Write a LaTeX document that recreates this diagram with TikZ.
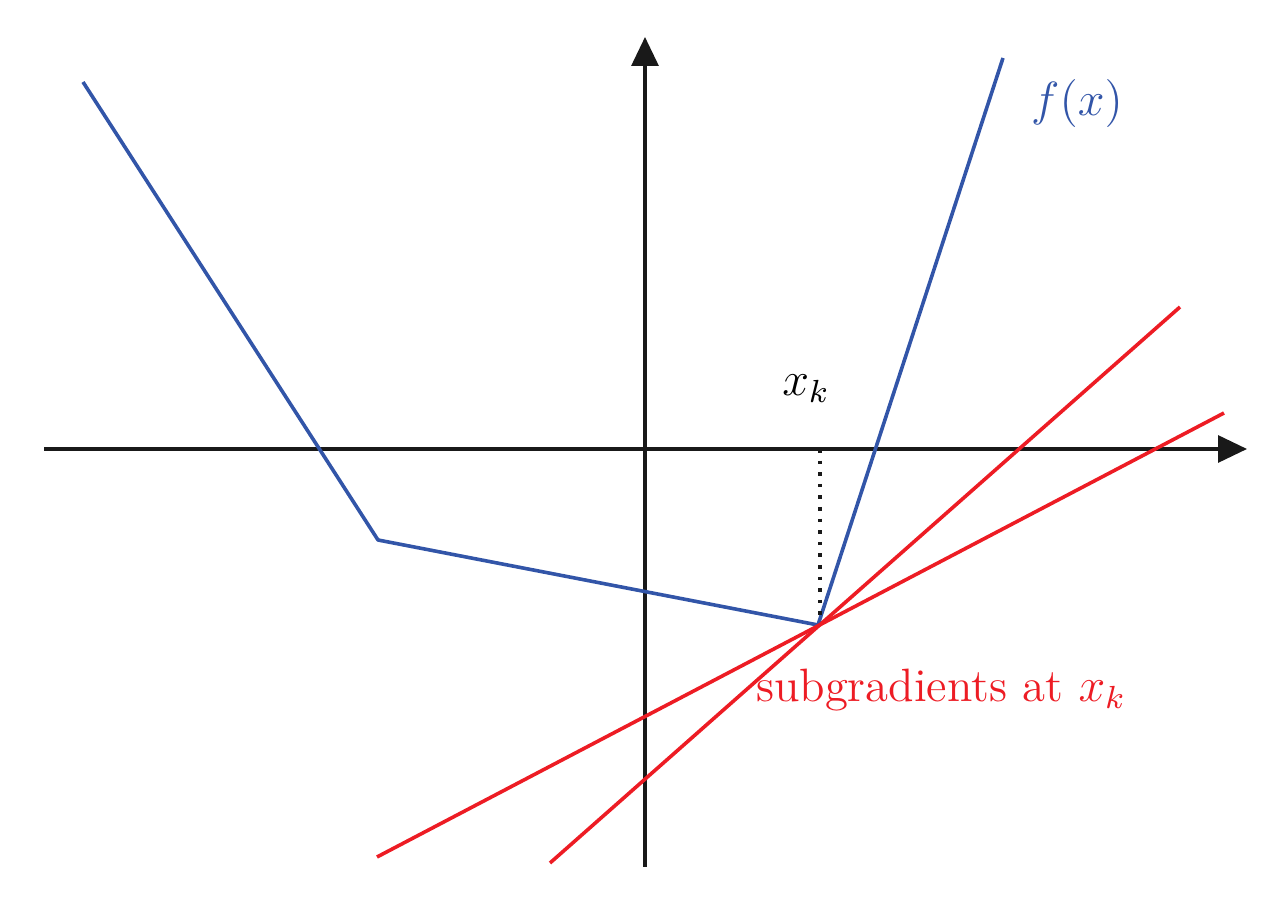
\documentclass[tikz,border=0pt]{standalone}
\usetikzlibrary{arrows.meta}
\definecolor{fblue}{RGB}{50,85,168}
\definecolor{sgred}{RGB}{237,28,36}
\begin{document}
\begin{tikzpicture}[x=0.25pt,y=-0.25pt,
  axis/.style={line width=0.8pt,black!90,-{Triangle[length=7.25pt,width=6.75pt]}},
  fline/.style={line width=0.9pt,fblue},
  sgline/.style={line width=0.9pt,sgred},
  lbl/.style={font=\fontsize{11.7}{13}\selectfont,inner sep=0pt}]
\useasboundingbox (0,0) rectangle (1288,897);
% axes
\coordinate (xl) at (44,449);
\coordinate (xr) at (1247,449);
\coordinate (yb) at (645,867);
\coordinate (yt) at (645,37);
\draw[axis] (xl) -- (xr);
\draw[axis] (yb) -- (yt);
% function
\coordinate (f0) at (83,82);
\coordinate (f1) at (378,540);
\coordinate (xk) at (818,625);
\coordinate (f3) at (1003,58);
\draw[fline,line join=round] (f0) -- (f1) -- (xk) -- (f3);
% subgradient lines
\coordinate (s1a) at (377,857);
\coordinate (s1b) at (1224,413);
\coordinate (s2a) at (550,863);
\coordinate (s2b) at (1180,307);
\draw[sgline] (s1a) -- (s1b);
\draw[sgline] (s2a) -- (s2b);
% dotted
\coordinate (xka) at (820,449);
\coordinate (xkb) at (820,622);
\draw[line width=0.9pt,dotted,black!90] (xka) -- (xkb);
% labels
\node[lbl] (lxk) at (806,389) {$x_k$};
\node[lbl,text=fblue] (lf) at (1077,104) {$f(x)$};
\node[lbl,text=sgred] (lsg) at (941,690) {subgradients at $x_k$};
\end{tikzpicture}
\end{document}
